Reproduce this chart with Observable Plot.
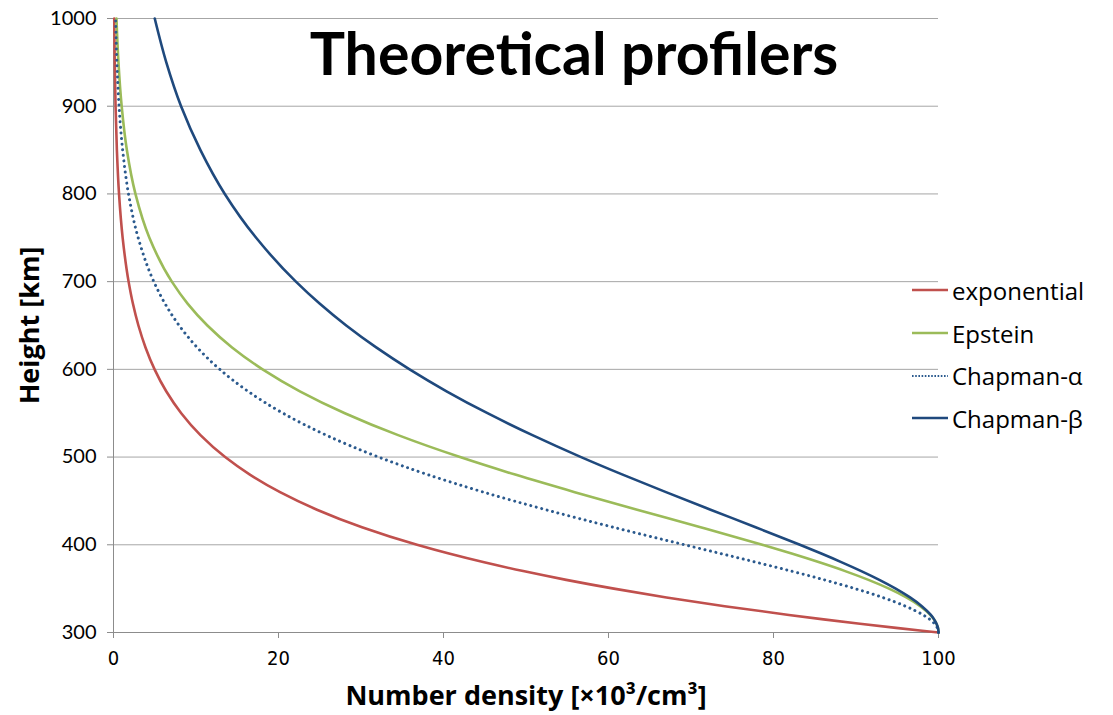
<!DOCTYPE html>
<html>
<head>
<meta charset="utf-8">
<script src="https://cdn.jsdelivr.net/npm/d3@7"></script>
<script src="https://cdn.jsdelivr.net/npm/@observablehq/plot@0.6"></script>
<style>
  body { margin: 0; background: #fff; }
  #wrap { position: relative; width: 1113px; height: 715px; overflow: hidden; }
  #legend { position: absolute; left: 912px; top: 269px; font-family: "Open Sans", Lato, sans-serif; font-size: 24px; color: #000; }
  .item { display: flex; align-items: center; height: 42.7px; }
  .item svg { margin-right: 4px; }
</style>
</head>
<body>
<div id="wrap"><div id="chart"></div><div id="legend"></div></div>
<script>
// Heights [km]
const heights = [300,302,305,310,315,320,330,340,350,360,370,380,390,400,420,440,460,480,500,525,550,575,600,625,650,675,700,750,800,850,900,950,1000];
// Number density [x10^3/cm^3]
const exponential = [100,98.02,95.12,90.48,86.07,81.87,74.08,67.03,60.65,54.88,49.66,44.93,40.66,36.79,30.12,24.66,20.19,16.53,13.53,10.54,8.21,6.39,4.98,3.88,3.02,2.35,1.83,1.11,0.67,0.41,0.25,0.15,0.09];
const epstein = [100,99.99,99.94,99.75,99.44,99.00,97.78,96.10,94.00,91.51,88.69,85.56,82.20,78.64,71.16,63.47,55.91,48.69,42.00,34.50,28.04,22.59,18.07,14.37,11.38,8.98,7.07,4.35,2.66,1.62,0.99,0.60,0.36];
const chapmanAlpha = [100,99.98,99.88,99.52,98.94,98.14,96.00,93.21,89.89,86.17,82.15,77.93,73.60,69.22,60.58,52.38,44.85,38.09,32.13,25.79,20.55,16.30,12.88,10.14,7.96,6.24,4.89,2.99,1.82,1.11,0.67,0.41,0.25];
const chapmanBeta = [100,99.99,99.94,99.76,99.47,99.07,97.98,96.55,94.81,92.83,90.64,88.28,85.79,83.20,77.83,72.37,66.97,61.72,56.68,50.78,45.33,40.37,35.89,31.84,28.21,24.98,22.11,17.29,13.49,10.54,8.19,6.40,5.00];

const seriesNames = ["exponential", "Epstein", "Chapman-α", "Chapman-β"];
const seriesValues = [exponential, epstein, chapmanAlpha, chapmanBeta];
const seriesColors = ["#C0504D", "#9BBB59", "#2B5A8E", "#1F497D"];
const seriesDash = [null, null, "0.01 5.6", null];

const xTicks = [0, 20, 40, 60, 80, 100];
const yTicks = [300, 400, 500, 600, 700, 800, 900, 1000];

const titleText = "Theoretical profilers";
const xLabel = "Number density [×10³/cm³]";
const yLabel = "Height [km]";

const series = seriesNames.map((name, i) =>
  heights.map((h, j) => ({ name, h, n: seriesValues[i][j] }))
);

const chart = Plot.plot({
  width: 1113,
  height: 715,
  marginLeft: 113,
  marginRight: 175,
  marginTop: 18,
  marginBottom: 83,
  style: { fontFamily: "Lato, 'Open Sans', sans-serif", background: "#fff", color: "#000", overflow: "visible" },
  x: { domain: [0, 100] },
  y: { domain: [300, 1000] },
  marks: [
    Plot.ruleY(yTicks.filter(d => d > 300), { stroke: "#a6a6a6", strokeWidth: 1 }),
    Plot.axisX({ ticks: xTicks, tickSize: 6, tickPadding: 12, fontSize: 20, fontFamily: "'Liberation Sans Narrow', 'DejaVu Sans Condensed', sans-serif", stroke: "#8c8c8c", label: null }),
    Plot.axisY({ ticks: yTicks, tickSize: 6, tickPadding: 11, fontSize: 20, tickFormat: d => String(d), stroke: "#8c8c8c", label: null }),
    Plot.ruleX([0], { stroke: "#8c8c8c", strokeWidth: 1 }),
    Plot.ruleY([300], { stroke: "#8c8c8c", strokeWidth: 1 }),
    ...series.map((rows, i) => Plot.line(rows, {
      x: "n", y: "h",
      stroke: seriesColors[i],
      strokeWidth: seriesDash[i] ? 3 : 2.6,
      strokeDasharray: seriesDash[i] || undefined,
      strokeLinecap: seriesDash[i] ? "round" : undefined,
      curve: "monotone-y"
    })),
    Plot.text([titleText], { frameAnchor: "top", dx: 48, dy: 15, lineAnchor: "top", fontSize: 59, fontWeight: "bold", fill: "#000" }),
    Plot.text([xLabel], { frameAnchor: "bottom", dy: 53, lineAnchor: "top", fontSize: 27, fontWeight: "bold", fontFamily: "'Open Sans', Lato, sans-serif", fill: "#000" }),
    Plot.text([yLabel], { frameAnchor: "left", dx: -83, rotate: -90, textAnchor: "middle", fontSize: 27, fontWeight: "bold", fontFamily: "'Open Sans', Lato, sans-serif", fill: "#000" })
  ]
});
document.getElementById("chart").appendChild(chart);

// Legend
const legend = document.getElementById("legend");
seriesNames.forEach((name, i) => {
  const item = document.createElement("div");
  item.className = "item";
  const dash = seriesDash[i] ? 'stroke-dasharray="1.6 1.6" stroke-width="1.8"' : 'stroke-width="2.6"';
  item.innerHTML = `<svg width="36" height="10"><line x1="0" y1="5" x2="36" y2="5" stroke="${seriesColors[i]}" ${dash}/></svg><span>${name}</span>`;
  legend.appendChild(item);
});
</script>
</body>
</html>
